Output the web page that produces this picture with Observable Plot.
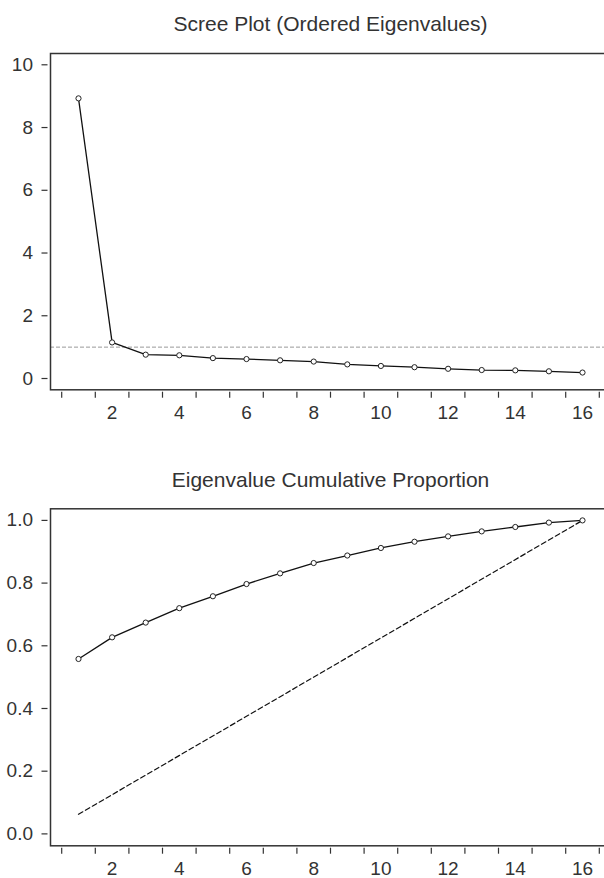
<!DOCTYPE html>
<html>
<head>
<meta charset="utf-8">
<script src="https://cdn.jsdelivr.net/npm/d3@7"></script>
<script src="https://cdn.jsdelivr.net/npm/@observablehq/plot@0.6"></script>
<style>
  html, body { margin: 0; padding: 0; background: #fff; overflow: hidden; }
  #chart { width: 604px; height: 878px; }
  #chart svg { display: block; overflow: hidden; }
</style>
</head>
<body>
<div id="chart"></div>
<script>
// ---- data ----
const components = [1, 2, 3, 4, 5, 6, 7, 8, 9, 10, 11, 12, 13, 14, 15, 16];
const eigenvalues = [8.93, 1.15, 0.76, 0.74, 0.65, 0.62, 0.58, 0.54, 0.45, 0.40, 0.36, 0.31, 0.27, 0.26, 0.23, 0.19];
const cumulative = [0.558, 0.627, 0.674, 0.720, 0.758, 0.797, 0.831, 0.864, 0.888, 0.912, 0.932, 0.949, 0.965, 0.979, 0.993, 1.000];
const kaiserLevel = [1];
const diagX = [1, 16];
const diagY = [0.0625, 1.0];
const boundaryTicks = [0.5, 1.5, 2.5, 3.5, 4.5, 5.5, 6.5, 7.5, 8.5, 9.5, 10.5, 11.5, 12.5, 13.5, 14.5, 15.5, 16.5];
const xLabelTicks = [2, 4, 6, 8, 10, 12, 14, 16];
const screeYTicks = [0, 2, 4, 6, 8, 10];
const cumYTicks = [0, 0.2, 0.4, 0.6, 0.8, 1.0];
const titles = ["Scree Plot (Ordered Eigenvalues)", "Eigenvalue Cumulative Proportion"];

const screeRows = components.map((k, i) => ({k, v: eigenvalues[i]}));
const cumRows = components.map((k, i) => ({k, v: cumulative[i]}));
const diagRows = diagX.map((k, i) => ({k, v: diagY[i]}));

const FONT = "'Liberation Sans', Arial, Helvetica, sans-serif";
const TXT = "#333";
const xDomain = [1 / 6, 16 + 5 / 6];

function xAxes(dy) {
  return [
    Plot.axisX(boundaryTicks, {tickSize: 6, tickFormat: () => "", label: null, dy, stroke: "#333", strokeWidth: 1.2}),
    Plot.axisX(xLabelTicks, {tickSize: 0, tickPadding: 16, label: null, fontSize: 19, fill: TXT, tickFormat: d3.format("d")})
  ];
}

const scree = Plot.plot({
  width: 604,
  height: 430,
  marginLeft: 50,
  marginRight: -6,
  marginTop: 53,
  marginBottom: 40.7,
  style: {fontFamily: FONT, fontSize: "19px", color: TXT, background: "#fff", overflow: "hidden"},
  x: {domain: xDomain, label: null},
  y: {domain: [-0.36, 10.36], label: null},
  marks: [
    Plot.ruleY(kaiserLevel, {stroke: "#999", strokeWidth: 1, strokeDasharray: "4,2"}),
    Plot.line(screeRows, {x: "k", y: "v", stroke: "#111", strokeWidth: 1.3}),
    Plot.dot(screeRows, {x: "k", y: "v", r: 2.6, fill: "#fff", stroke: "#222", strokeWidth: 1}),
    Plot.axisY(screeYTicks, {tickSize: 6, tickPadding: 9, dx: -2.5, label: null, fontSize: 19, fill: TXT, stroke: "#333", strokeWidth: 1.2, tickFormat: d3.format("d")}),
    ...xAxes(2.4),
    Plot.frame({stroke: "#333", strokeWidth: 1.5}),
    Plot.text([titles[0]], {frameAnchor: "top", dy: -22.3, lineAnchor: "bottom", fontSize: 21, fill: TXT})
  ]
});

const cum = Plot.plot({
  width: 604,
  height: 448,
  marginLeft: 50,
  marginRight: -6,
  marginTop: 78.3,
  marginBottom: 32.7,
  style: {fontFamily: FONT, fontSize: "19px", color: TXT, background: "#fff", overflow: "hidden"},
  x: {domain: xDomain, label: null},
  y: {domain: [-0.038, 1.037], label: null},
  marks: [
    Plot.line(diagRows, {x: "k", y: "v", stroke: "#111", strokeWidth: 1.2, strokeDasharray: "5,3"}),
    Plot.line(cumRows, {x: "k", y: "v", stroke: "#111", strokeWidth: 1.3}),
    Plot.dot(cumRows, {x: "k", y: "v", r: 2.6, fill: "#fff", stroke: "#222", strokeWidth: 1}),
    Plot.axisY(cumYTicks, {tickSize: 6, tickPadding: 9, dx: -2.5, label: null, fontSize: 19, fill: TXT, stroke: "#333", strokeWidth: 1.2, tickFormat: d3.format(".1f")}),
    ...xAxes(2.4),
    Plot.frame({stroke: "#333", strokeWidth: 1.5}),
    Plot.text([titles[1]], {frameAnchor: "top", dy: -22.3, lineAnchor: "bottom", fontSize: 21, fill: TXT})
  ]
});

const root = document.getElementById("chart");
root.appendChild(scree);
root.appendChild(cum);
</script>
</body>
</html>
